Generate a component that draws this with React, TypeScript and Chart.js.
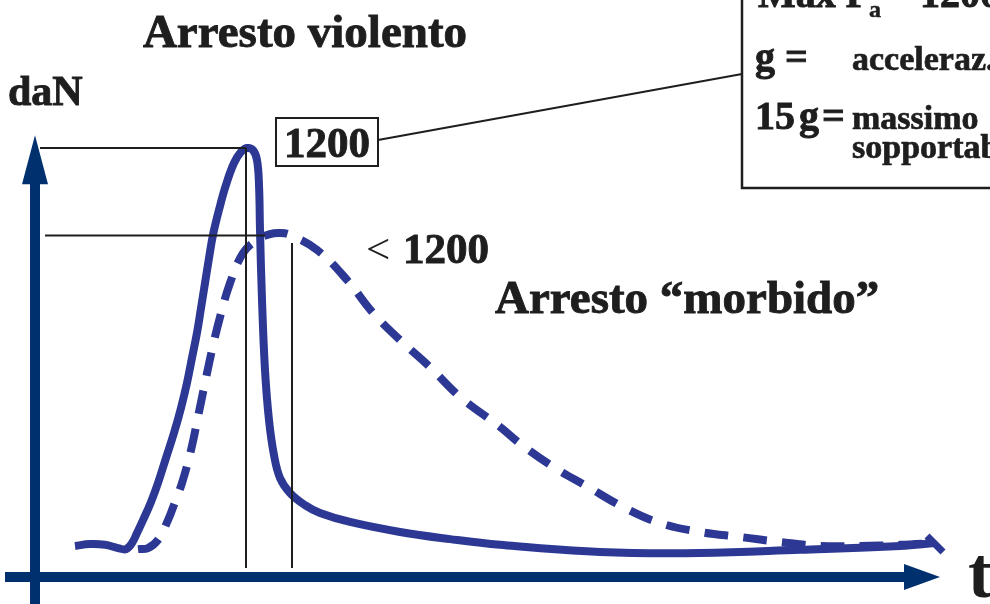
import React, { useEffect, useRef } from "react";
import { Chart, registerables } from "chart.js";

Chart.register(...registerables);

// "Arresto violento" (solid curve): time (arbitrary units) and force (daN)
const violentT = [4.0, 5.5, 7.0, 8.3, 9.1, 9.7, 10.2, 10.8, 11.6, 12.3, 13.1, 13.9, 14.6, 15.2, 15.7, 16.2, 16.6, 17.0, 17.4, 17.8, 18.4, 19.1, 19.9, 20.6, 21.2, 21.8, 22.2, 22.4, 22.5, 22.7, 23.0, 23.4, 23.9, 24.5, 25.5, 27.0, 28.5, 31.5, 36.5, 41.5, 46.5, 56.5, 66.5, 76.5, 86.5, 90.0];
const violentV = [87, 92, 90, 81, 78, 95, 123, 159, 210, 263, 333, 403, 473, 543, 613, 683, 752, 822, 892, 957, 1027, 1097, 1158, 1189, 1200, 1194, 1166, 1097, 971, 775, 579, 439, 341, 277, 235, 201, 179, 154, 126, 106, 90, 70, 67, 76, 87, 95];

// "Arresto morbido" (dashed curve)
const softT = [10.3, 11.3, 12.3, 13.3, 14.0, 14.7, 15.6, 16.3, 17.0, 17.7, 18.5, 19.5, 20.8, 22.2, 23.5, 24.5, 25.5, 28.2, 31.2, 33.8, 36.5, 39.5, 42.5, 46.5, 48.7, 52.0, 55.3, 59.0, 62.5, 66.5, 70.5, 74.5, 78.5, 82.5, 86.5, 90.0];
const softV = [78, 81, 104, 159, 210, 263, 355, 448, 543, 635, 727, 822, 906, 943, 959, 962, 957, 915, 831, 739, 663, 587, 504, 420, 369, 305, 252, 193, 151, 126, 112, 98, 87, 87, 90, 95];

const PEAK_VIOLENT = 1200;
const T_PEAK_VIOLENT = 21.1;
const PEAK_SOFT = 955;
const T_PEAK_SOFT = 25.7;

const X_MIN = -3.5;
const X_MAX = 95.5;
const Y_MIN = -75.5;
const Y_MAX = 1614;

const CURVE = "#2c3894";
const AXIS = "#00306e";
const INK = "#1e1e1e";
const SERIF = '"Liberation Serif", "Times New Roman", serif';

function line(ctx: CanvasRenderingContext2D, x1: number, y1: number, x2: number, y2: number) {
  ctx.beginPath();
  ctx.moveTo(x1, y1);
  ctx.lineTo(x2, y2);
  ctx.stroke();
}

function boldText(ctx: CanvasRenderingContext2D, s: string, x: number, y: number, w = 0.9) {
  ctx.fillText(s, x, y);
  ctx.lineWidth = w;
  ctx.strokeText(s, x, y);
}

const decorPlugin = {
  id: "decor",
  beforeDatasetsDraw(chart: any) {
    const ctx: CanvasRenderingContext2D = chart.ctx;
    const xs = chart.scales.x;
    const ys = chart.scales.y;
    const x0 = xs.getPixelForValue(0);
    const y0 = ys.getPixelForValue(0);
    ctx.save();
    ctx.strokeStyle = AXIS;
    ctx.fillStyle = AXIS;
    ctx.lineWidth = 10;
    // y axis
    const yTip = ys.getPixelForValue(1236);
    line(ctx, x0, ys.getPixelForValue(Y_MIN), x0, yTip + 40);
    ctx.beginPath();
    ctx.moveTo(x0, yTip);
    ctx.lineTo(x0 - 13, yTip + 49);
    ctx.lineTo(x0 + 13, yTip + 49);
    ctx.closePath();
    ctx.fill();
    // x axis
    const xTip = xs.getPixelForValue(90.5);
    line(ctx, xs.getPixelForValue(-3), y0, xTip - 30, y0);
    ctx.beginPath();
    ctx.moveTo(xTip, y0);
    ctx.lineTo(xTip - 36, y0 - 13);
    ctx.lineTo(xTip - 36, y0 + 13);
    ctx.closePath();
    ctx.fill();
    ctx.restore();
  },
  afterDatasetsDraw(chart: any) {
    const ctx: CanvasRenderingContext2D = chart.ctx;
    const xs = chart.scales.x;
    const ys = chart.scales.y;
    ctx.save();
    // reference lines
    ctx.strokeStyle = INK;
    ctx.lineWidth = 2;
    const yV = ys.getPixelForValue(PEAK_VIOLENT);
    const yS = ys.getPixelForValue(PEAK_SOFT);
    const xV = xs.getPixelForValue(T_PEAK_VIOLENT);
    const xS = xs.getPixelForValue(T_PEAK_SOFT);
    const yLow = ys.getPixelForValue(25);
    line(ctx, xs.getPixelForValue(0.5), yV, xV, yV);
    line(ctx, xV, yV, xV, yLow);
    line(ctx, xs.getPixelForValue(1.0), yS, xs.getPixelForValue(23), yS);
    line(ctx, xS, ys.getPixelForValue(934), xS, yLow);

    // arrow tip at the end of the solid curve
    const n = violentT.length - 1;
    const ex = xs.getPixelForValue(violentT[n]);
    const ey = ys.getPixelForValue(violentV[n]);
    ctx.strokeStyle = CURVE;
    ctx.lineWidth = 7;
    line(ctx, ex - 8, ey - 7, ex + 8, ey + 9);

    // 1200 box and leader line
    ctx.strokeStyle = INK;
    ctx.lineWidth = 2;
    ctx.strokeRect(276, 118, 102, 48);
    line(ctx, 378, 140, 742, 74);
    // legend box
    ctx.lineWidth = 2.5;
    ctx.beginPath();
    ctx.moveTo(742, -5);
    ctx.lineTo(742, 188);
    ctx.lineTo(995, 188);
    ctx.stroke();

    // texts
    ctx.fillStyle = INK;
    ctx.strokeStyle = INK;
    ctx.textBaseline = "alphabetic";
    ctx.textAlign = "left";
    ctx.font = `bold 47px ${SERIF}`;
    ctx.textAlign = "center";
    boldText(ctx, "Arresto violento", 305, 47);
    ctx.textAlign = "left";
    boldText(ctx, "Arresto \u201cmorbido\u201d", 495, 313);
    ctx.font = `bold 42px ${SERIF}`;
    boldText(ctx, "daN", 8, 105);
    ctx.font = `bold 43px ${SERIF}`;
    ctx.textAlign = "center";
    boldText(ctx, "1200", 327, 157);
    ctx.textAlign = "left";
    boldText(ctx, "1200", 403, 263);
    ctx.font = `43px ${SERIF}`;
    ctx.fillText("<", 366, 263);
    ctx.font = `bold 72px ${SERIF}`;
    ctx.fillText("t", 968, 597);

    // legend content
    ctx.font = `bold 40px ${SERIF}`;
    boldText(ctx, "Max F", 758, 7);
    boldText(ctx, "=", 890, 7);
    boldText(ctx, "1200 daN", 920, 7);
    ctx.font = `bold 24px ${SERIF}`;
    boldText(ctx, "a", 869, 17, 0.5);
    ctx.font = `bold 40px ${SERIF}`;
    boldText(ctx, "g =", 755, 70);
    boldText(ctx, "15", 755, 129);
    boldText(ctx, "g", 799, 129);
    boldText(ctx, "=", 822, 129);
    ctx.font = `bold 34px ${SERIF}`;
    boldText(ctx, "acceleraz.", 852, 70, 0.7);
    boldText(ctx, "massimo", 852, 129, 0.7);
    boldText(ctx, "sopportabile", 852, 158, 0.7);
    ctx.restore();
  },
};

export default function App() {
  const ref = useRef<HTMLCanvasElement | null>(null);
  useEffect(() => {
    if (!ref.current) return;
    const chart = new Chart(ref.current, {
      type: "line",
      data: {
        datasets: [
          {
            label: "Arresto violento",
            data: violentT.map((t, i) => ({ x: t, y: violentV[i] })),
            borderColor: CURVE,
            borderWidth: 8,
            pointRadius: 0,
            fill: false,
            tension: 0.4,
            clip: false,
          } as any,
          {
            label: "Arresto morbido",
            data: softT.map((t, i) => ({ x: t, y: softV[i] })),
            borderColor: CURVE,
            borderWidth: 8,
            borderDash: [24, 15],
            pointRadius: 0,
            fill: false,
            tension: 0.4,
            clip: false,
          } as any,
        ],
      },
      options: {
        responsive: false,
        animation: false,
        layout: { padding: 0 },
        scales: {
          x: { type: "linear", display: false, min: X_MIN, max: X_MAX },
          y: { type: "linear", display: false, min: Y_MIN, max: Y_MAX },
        },
        plugins: { legend: { display: false }, tooltip: { enabled: false } },
      },
      plugins: [decorPlugin],
    });
    return () => chart.destroy();
  }, []);
  return (
    <div style={{ position: "fixed", left: 0, top: 0, width: 990, height: 604, background: "#fff" }}>
      <canvas ref={ref} width={990} height={604} style={{ display: "block" }} />
    </div>
  );
}
